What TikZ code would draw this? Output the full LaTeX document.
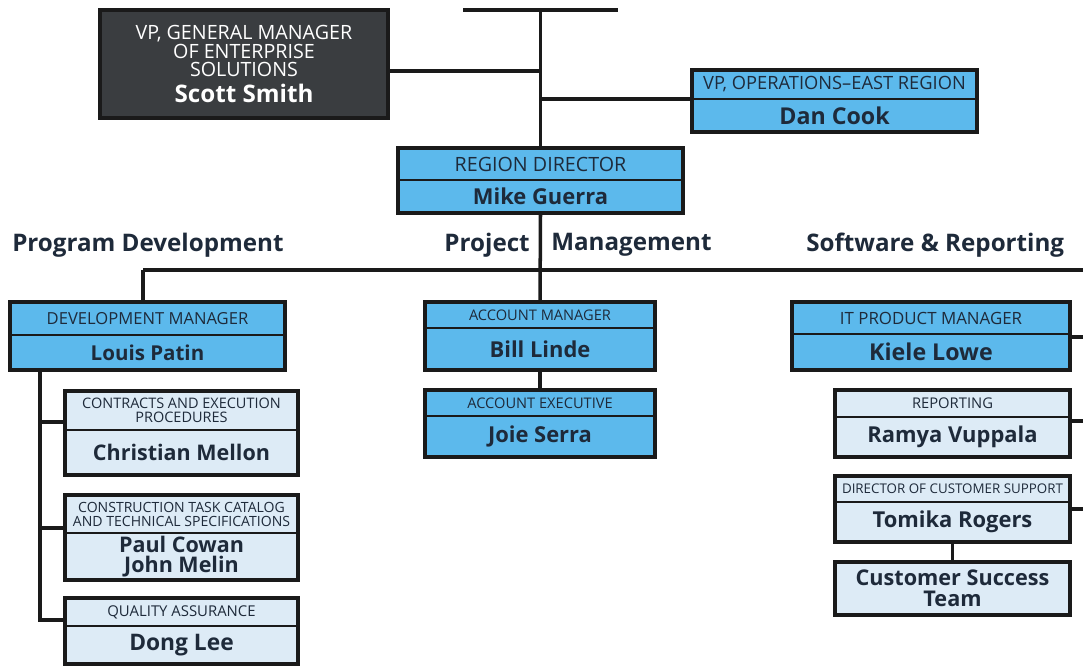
\documentclass[tikz,border=0pt]{standalone}
\usepackage{fontspec}
\setmainfont{Open Sans}
\usetikzlibrary{positioning}
\definecolor{OrgBlue}{HTML}{5CB9EC}
\definecolor{OrgPale}{HTML}{DDEBF6}
\definecolor{OrgDark}{HTML}{3A3D40}
\definecolor{OrgInk}{HTML}{1E2A3A}
\definecolor{OrgLine}{HTML}{1A1A1A}
\tikzset{
  rolehead/.style={draw=OrgLine,line width=1.3pt,outer sep=0pt,inner sep=0pt,align=center,text=OrgInk,font=\fontsize{11.8}{10}\selectfont,anchor=north west},
  rolename/.style={draw=OrgLine,line width=1.3pt,outer sep=0pt,inner sep=0pt,align=center,text=OrgInk,font=\bfseries\fontsize{15.6}{15}\selectfont},
  boxrim/.style={draw=OrgLine,line width=2.4pt},
  orglink/.style={draw=OrgLine,line width=2.5pt},
  grouplabel/.style={font=\bfseries\fontsize{17.2}{17}\selectfont,text=OrgInk,inner sep=0pt}
}

\begin{document}
\begin{tikzpicture}[x=0.25mm,y=-0.25mm]
\useasboundingbox (0,0) rectangle (1083,666);

% top of the chart
\node[rolehead,fill=OrgDark,text=white,draw=OrgLine,line width=2.4pt,minimum width=72mm,minimum height=27mm,font=\fontsize{14}{13.4}\selectfont] (scott) at (100,10)
  {VP, GENERAL MANAGER\\OF ENTERPRISE\\SOLUTIONS\\[5pt]\bfseries\fontsize{17.2}{17}\selectfont Scott Smith};
\node[rolehead,fill=OrgBlue,minimum width=71.25mm,minimum height=7.25mm,font=\fontsize{13}{12}\selectfont] (dantitle) at (692,70) {VP, OPERATIONS--EAST REGION};
\node[rolename,fill=OrgBlue,minimum width=71.25mm,minimum height=8.25mm,below=0pt of dantitle,font=\bfseries\fontsize{16.5}{15}\selectfont] (danname) {Dan Cook};
\node[rolehead,fill=OrgBlue,minimum width=71.25mm,minimum height=8mm,font=\fontsize{14}{12}\selectfont] (regtitle) at (398,148) {REGION DIRECTOR};
\node[rolename,fill=OrgBlue,minimum width=71.25mm,minimum height=8.25mm,below=0pt of regtitle] (regname) {Mike Guerra};

% group headings
\node[grouplabel,anchor=west] (grpdev) at (12,245) {Program Development};
\node[grouplabel,anchor=east] (grpproj) at (530,245) {Project};
\node[grouplabel,anchor=west] (grpmgmt) at (551,245) {Management};
\node[grouplabel,anchor=west] (grpsoft) at (806,245) {Software \& Reporting};

% program development
\node[rolehead,fill=OrgBlue,minimum width=68.75mm,minimum height=8.25mm] (devtitle) at (10,302) {DEVELOPMENT MANAGER};
\node[rolename,fill=OrgBlue,minimum width=68.75mm,minimum height=8.75mm,below=0pt of devtitle,font=\bfseries\fontsize{14.6}{15}\selectfont] (devname) {Louis Patin};
\node[rolehead,fill=OrgPale,minimum width=58.25mm,minimum height=9.75mm,font=\fontsize{10.3}{10.2}\selectfont] (chrtitle) at (65,391) {CONTRACTS AND EXECUTION\\PROCEDURES};
\node[rolename,fill=OrgPale,minimum width=58.25mm,minimum height=11.25mm,below=0pt of chrtitle,font=\bfseries\fontsize{15.3}{15}\selectfont] (chrname) {Christian Mellon};
\node[rolehead,fill=OrgPale,minimum width=58.25mm,minimum height=9.5mm,font=\fontsize{10}{10}\selectfont] (pcwtitle) at (65,495) {CONSTRUCTION TASK CATALOG\\AND TECHNICAL SPECIFICATIONS};
\node[rolename,fill=OrgPale,minimum width=58.25mm,minimum height=11.75mm,below=0pt of pcwtitle,font=\bfseries\fontsize{15.3}{14.8}\selectfont] (pcwname) {Paul Cowan\\John Melin};
\node[rolehead,fill=OrgPale,minimum width=58.25mm,minimum height=7mm,font=\fontsize{10.6}{10}\selectfont] (dngtitle) at (65,598) {QUALITY ASSURANCE};
\node[rolename,fill=OrgPale,minimum width=58.25mm,minimum height=9.5mm,below=0pt of dngtitle,font=\bfseries\fontsize{16.2}{15}\selectfont] (dngname) {Dong Lee};

% project management
\node[rolehead,fill=OrgBlue,minimum width=57.5mm,minimum height=6.5mm,font=\fontsize{10.4}{10}\selectfont] (amtitle) at (425,302) {ACCOUNT MANAGER};
\node[rolename,fill=OrgBlue,minimum width=57.5mm,minimum height=10.5mm,below=0pt of amtitle] (amname) {Bill Linde};
\node[rolehead,fill=OrgBlue,minimum width=57.5mm,minimum height=6.5mm,font=\fontsize{10.4}{10}\selectfont] (aetitle) at (425,390) {ACCOUNT EXECUTIVE};
\node[rolename,fill=OrgBlue,minimum width=57.5mm,minimum height=10.25mm,below=0pt of aetitle] (aename) {Joie Serra};

% software & reporting
\node[rolehead,fill=OrgBlue,minimum width=69.5mm,minimum height=8mm,font=\fontsize{12}{10}\selectfont] (ittitle) at (792,302) {IT PRODUCT MANAGER};
\node[rolename,fill=OrgBlue,minimum width=69.5mm,minimum height=9mm,below=0pt of ittitle,font=\bfseries\fontsize{16.5}{15}\selectfont] (itname) {Kiele Lowe};
\node[rolehead,fill=OrgPale,minimum width=58.75mm,minimum height=6.75mm,font=\fontsize{10.5}{10}\selectfont] (reptitle) at (835,390) {REPORTING};
\node[rolename,fill=OrgPale,minimum width=58.75mm,minimum height=10mm,below=0pt of reptitle] (repname) {Ramya Vuppala};
\node[rolehead,fill=OrgPale,minimum width=58.75mm,minimum height=6.5mm,font=\fontsize{9.5}{9}\selectfont] (dcstitle) at (835,476) {DIRECTOR OF CUSTOMER SUPPORT};
\node[rolename,fill=OrgPale,minimum width=58.75mm,minimum height=10mm,below=0pt of dcstitle] (dcsname) {Tomika Rogers};
\node[rolename,fill=OrgPale,minimum width=58.75mm,minimum height=13.25mm,anchor=north west,font=\bfseries\fontsize{15.4}{15}\selectfont] (cstname) at (835,562) {Customer Success\\Team};

% heavy outlines round the two-part boxes
\foreach \b in {dan,reg,dev,chr,pcw,dng,am,ae,it,rep,dcs}
  \draw[boxrim] (\b title.north west) rectangle (\b name.south east);
\draw[boxrim] (cstname.north west) rectangle (cstname.south east);

% connectors
\coordinate (topL) at (463,10);
\coordinate (topR) at (618,10);
\coordinate (barL) at (143,270);
\coordinate (barR) at (1083,270);
\coordinate (spine) at (40,370);
\coordinate (edge) at (1083,0);
\draw[orglink] (topL) -- (topR);
\draw[orglink] (regtitle.north |- topL) -- (regtitle.north);
\draw[orglink] ([yshift=-1.75mm]scott.east) -- ([yshift=-1.75mm]scott.east -| regtitle.north);
\draw[orglink] (danname.north west) -- (danname.north west -| regtitle.north);
\draw[orglink] (regname.south) -- (amtitle.north);
\draw[orglink] (barL) -- (barR);
\draw[orglink] (barL) -- (barL |- devtitle.north);
\draw[orglink] (spine) |- ([yshift=1.5mm]dngtitle.south west);
\draw[orglink] ([yshift=2mm]chrtitle.south west) -- ([yshift=2mm]chrtitle.south west -| spine);
\draw[orglink] ([yshift=1.25mm]pcwtitle.south west) -- ([yshift=1.25mm]pcwtitle.south west -| spine);
\draw[orglink] (amname.south) -- (aetitle.north);
\draw[orglink] ([yshift=-0.75mm]ittitle.south east) -- ([yshift=-0.75mm]ittitle.south east -| edge);
\draw[orglink] ([yshift=-1mm]reptitle.south east) -- ([yshift=-1mm]reptitle.south east -| edge);
\draw[orglink] ([yshift=-1.75mm]dcstitle.south east) -- ([yshift=-1.75mm]dcstitle.south east -| edge);
\draw[orglink] (dcsname.south) -- (cstname.north);
\end{tikzpicture}
\end{document}
